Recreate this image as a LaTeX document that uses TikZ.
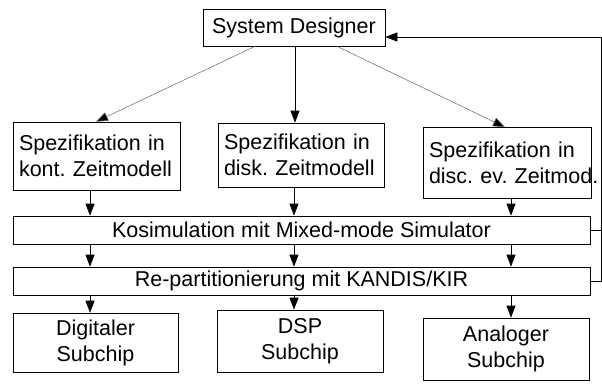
\documentclass[tikz,border=0pt]{standalone}
\usepackage{fontspec}
\setmainfont{Liberation Sans}
\usetikzlibrary{arrows.meta}
\begin{document}
\frenchspacing
\begin{tikzpicture}[x=1pt,y=-1pt,
  box/.style={draw, line width=0.7pt, inner sep=0pt, font=\fontsize{21.5}{26}\selectfont},
  spec/.style={box, align=left, inner xsep=6pt, text width=#1},
  chip/.style={box, align=center},
  arr/.style={line width=0.7pt, -{Triangle[length=12pt,width=9pt]}},
  diag/.style={line width=0.5pt, black!60, -{Triangle[length=12pt,width=9pt,fill=black]}},
  fbl/.style={line width=0.7pt}]
\useasboundingbox (0,0) rectangle (602,383);
\node[box, minimum width=182pt, minimum height=37pt] (sd) at (294,27.5) {System Designer};
\node[spec=155pt, minimum height=68pt] (s1) at (96.5,156) {\mbox{Spezifikation in}\\\mbox{kont. Zeitmodell}};
\node[spec=154pt, minimum height=64pt] (s2) at (301,155) {\mbox{Spezifikation in}\\\mbox{disk. Zeitmodell}};
\node[spec=156pt, minimum height=71pt] (s3) at (507,163) {\mbox{Spezifikation in}\\\mbox{disc. ev. Zeitmod.}};
\node[box, minimum width=577pt, minimum height=28pt] (ko) at (301.5,230) {Kosimulation mit Mixed-mode Simulator};
\node[box, minimum width=577pt, minimum height=28pt] (rp) at (301.5,281) {Re-partitionierung mit KANDIS/KIR};
\node[chip, minimum width=165pt, minimum height=59pt] (c1) at (95.5,342.5) {Digitaler\\Subchip};
\node[chip, minimum width=166pt, minimum height=62pt] (c2) at (300,341) {DSP\\Subchip};
\node[chip, minimum width=166pt, minimum height=62pt] (c3) at (506,349) {Analoger\\Subchip};
% top arrows
\draw[diag] (sd.south -| 255,0) -- (s1.north -| 96,0);
\draw[arr] (sd.south -| 295,0) -- (s2.north -| 295,0);
\draw[diag] (sd.south -| 337,0) -- (s3.north -| 505,0);
% spec -> kosim
\draw[arr] (s1.south -| 90,0) -- (ko.north -| 90,0);
\draw[arr] (s2.south -| 294,0) -- (ko.north -| 294,0);
\draw[arr] (s3.south -| 511,0) -- (ko.north -| 511,0);
% kosim -> repart
\draw[arr] (ko.south -| 90,0) -- (rp.north -| 90,0);
\draw[arr] (ko.south -| 294,0) -- (rp.north -| 294,0);
\draw[arr] (ko.south -| 511,0) -- (rp.north -| 511,0);
% repart -> chips
\draw[arr] (rp.south -| 90,0) -- (c1.north -| 90,0);
\draw[arr] (rp.south -| 294,0) -- (c2.north -| 294,0);
\draw[arr] (rp.south -| 511,0) -- (c3.north -| 511,0);
% feedback
\coordinate (fb1) at (601,230);
\coordinate (fb2) at (601,281);
\coordinate (fbt) at (601,37);
\draw[fbl] (ko.east) -- (fb1);
\draw[fbl] (rp.east) -- (fb2) -- (fbt);
\draw[arr] (fbt) -- (sd.east |- fbt);
\end{tikzpicture}
\end{document}
